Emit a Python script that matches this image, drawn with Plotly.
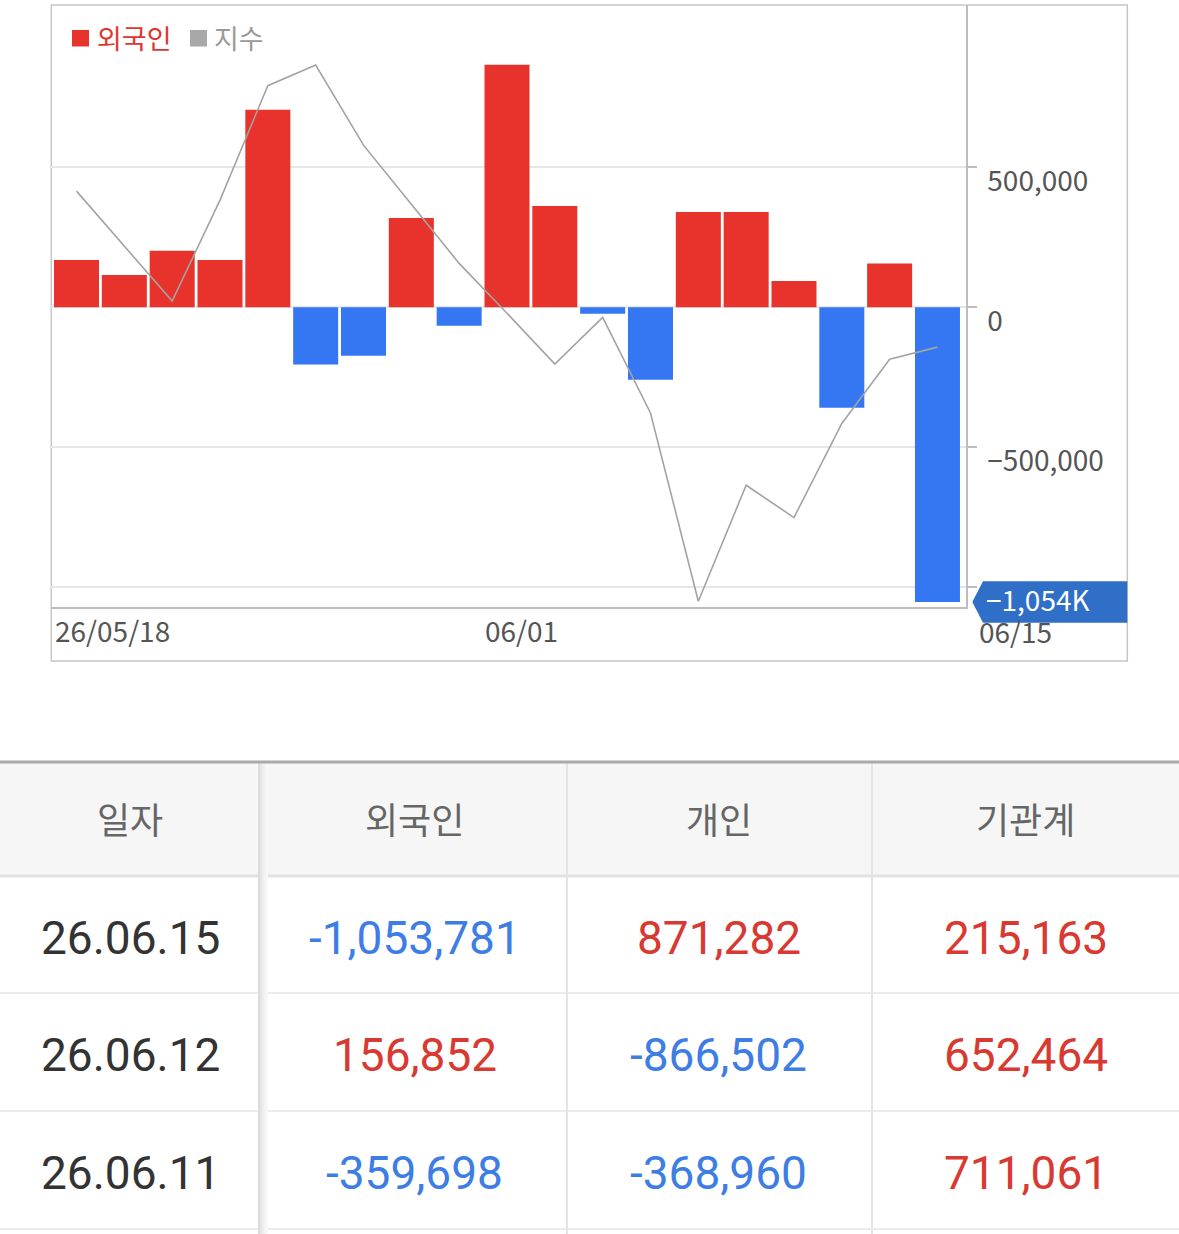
import plotly.graph_objects as go

# 외국인 순매수 (일별) + 지수
dates = ["26/05/18", "26/05/19", "26/05/20", "26/05/21", "26/05/22",
         "26/05/26", "26/05/27", "26/05/28", "26/05/29", "26/06/01",
         "26/06/02", "26/06/04", "26/06/05", "26/06/08", "26/06/09",
         "26/06/10", "26/06/11", "26/06/12", "26/06/15"]
foreign = [169000, 115000, 202000, 169000, 706000,
           -205000, -173000, 319000, -66000, 867000,
           362000, -23000, -259000, 341000, 341000,
           94000, -359698, 156852, -1053781]
kospi = [2807.3, 2779.9, 2752.5, 2802.8, 2859.8,
         2870.1, 2830.2, 2800.8, 2771.3, 2746.5,
         2721.1, 2744.4, 2696.8, 2603.0, 2660.8,
         2644.7, 2691.6, 2723.6, 2729.6]
date_labels = ["26/05/18", "06/01", "06/15"]

# 하단 표
tbl_header = ["일자", "외국인", "개인", "기관계"]
tbl_dates = ["26.06.15", "26.06.12", "26.06.11"]
tbl_foreign = [-1053781, 156852, -359698]
tbl_indiv = [871282, -866502, -368960]
tbl_inst = [215163, 652464, 711061]

W, H = 1179, 1234
RED = "#e8332d"
BLUE = "#3577f2"
FONT = "Noto Sans CJK KR"
Y_RANGE = [-1073000, 1081000]
PLOT_TOP, PLOT_BOT = 5, 607.3


def px(x):
    return x / W


def py(y):
    return 1 - y / H


def val_py(v):
    # y축 값 -> paper 좌표 (배지용)
    frac = (v - Y_RANGE[0]) / (Y_RANGE[1] - Y_RANGE[0])
    return py(PLOT_BOT) + frac * (py(PLOT_TOP) - py(PLOT_BOT))


fig = go.Figure()
fig.add_trace(go.Bar(
    x=dates, y=foreign,
    marker_color=[RED if v > 0 else BLUE for v in foreign],
    marker_line_width=0,
    hoverinfo="skip",
))
fig.add_trace(go.Scatter(
    x=dates, y=kospi, yaxis="y2", mode="lines",
    line=dict(color="#a3a3a3", width=1.6),
    hoverinfo="skip",
))

fig.update_layout(
    width=W, height=H,
    margin=dict(l=0, r=0, t=0, b=0),
    paper_bgcolor="white", plot_bgcolor="white",
    showlegend=False,
    bargap=0.059,
    font=dict(family=FONT, size=27, color="#555555"),
    xaxis=dict(
        domain=[px(51.3), px(965.7)],
        type="category", range=[-0.527, len(dates) - 0.41],
        showticklabels=False, showgrid=False, zeroline=False,
        showline=True, linecolor="#bdbdbd", linewidth=2,
        anchor="y", fixedrange=True,
    ),
    yaxis=dict(
        domain=[py(PLOT_BOT), py(PLOT_TOP)],
        range=Y_RANGE,
        side="right",
        tickvals=[500000, 0, -500000, -1000000],
        ticktext=["500,000", "0", "−500,000", ""],
        ticks="outside", ticklen=9, tickwidth=2, tickcolor="#bdbdbd",
        ticklabelshift=14, ticklabelstandoff=5,
        gridcolor="#e7e7e7", gridwidth=2,
        zeroline=True, zerolinecolor="#e7e7e7", zerolinewidth=2,
        showline=True, linecolor="#bdbdbd", linewidth=2,
        tickfont=dict(size=28, color="#555555"),
        fixedrange=True,
    ),
    yaxis2=dict(
        overlaying="y", range=[2600, 2900], visible=False, fixedrange=True,
    ),
)

shapes = []
# 차트 바깥 테두리
shapes.append(dict(type="rect", xref="paper", yref="paper",
                   x0=px(51.3), x1=px(1127.3), y0=py(661), y1=py(5),
                   line=dict(color="#c6c6c6", width=1.5), layer="below"))

# 범례 사각형
shapes.append(dict(type="rect", xref="paper", yref="paper",
                   x0=px(72), x1=px(89), y0=py(46.5), y1=py(30),
                   fillcolor=RED, line=dict(width=0)))
shapes.append(dict(type="rect", xref="paper", yref="paper",
                   x0=px(190), x1=px(207), y0=py(46.5), y1=py(30),
                   fillcolor="#a8a8a8", line=dict(width=0)))

# 마지막 값 배지
last = foreign[-1]
yc = val_py(last)
half = 20.8 / H
bx_tip, bx_l, bx_r = px(972.3), px(983), px(1127.3)
shapes.append(dict(
    type="path", xref="paper", yref="paper",
    path=(f"M {bx_tip},{yc} L {bx_l},{yc + half} L {bx_r},{yc + half} "
          f"L {bx_r},{yc - half} L {bx_l},{yc - half} Z"),
    fillcolor="#2f6fc8", line=dict(width=0), layer="above",
))

annotations = []
# 범례
annotations.append(dict(
    xref="paper", yref="paper", x=px(95), y=py(37), xanchor="left", yanchor="middle",
    showarrow=False, text="외국인",
    font=dict(family=FONT, size=27, color="#e0352f"),
))
annotations.append(dict(
    xref="paper", yref="paper", x=px(212), y=py(37), xanchor="left", yanchor="middle",
    showarrow=False, text="지수",
    font=dict(family=FONT, size=27, color="#9a9a9a"),
))
# x축 날짜 라벨
label_pos = [dates.index("26/05/18"), dates.index("26/06/01")]
for lab, i in zip(date_labels[:2], label_pos):
    annotations.append(dict(
        xref="x", yref="paper", x=i - 0.5, y=py(630), xanchor="left", yanchor="middle",
        xshift=0, showarrow=False, text=lab,
        font=dict(family=FONT, size=28, color="#555555"),
    ))
annotations.append(dict(
    xref="x", yref="paper", x=len(dates) - 0.5, y=py(631), xanchor="left", yanchor="middle",
    xshift=16, showarrow=False, text=date_labels[2],
    font=dict(family=FONT, size=28, color="#555555"),
))
# 배지 텍스트
annotations.append(dict(
    xref="paper", yref="paper", x=px(984), y=yc, xanchor="left", yanchor="middle",
    yshift=3, showarrow=False, text=f"−{abs(last) / 1000:,.0f}K",
    font=dict(family=FONT, size=28, color="white"),
))

# 표 배경/선
col_edges = [0, 260, 567, 872, 1179]
row_edges = [762, 876, 993, 1111, 1229]
shapes.append(dict(type="rect", xref="paper", yref="paper",
                   x0=0, x1=1, y0=py(876), y1=py(762),
                   fillcolor="#f6f6f6", line=dict(width=0), layer="below"))
for ry in row_edges[2:]:
    shapes.append(dict(type="line", xref="paper", yref="paper",
                       x0=0, x1=1, y0=py(ry), y1=py(ry),
                       line=dict(color="#ececec", width=2)))
shapes.append(dict(type="line", xref="paper", yref="paper",
                   x0=0, x1=1, y0=py(row_edges[1]), y1=py(row_edges[1]),
                   line=dict(color="#e2e2e2", width=3)))
for cx in col_edges[2:4]:
    shapes.append(dict(type="line", xref="paper", yref="paper",
                       x0=px(cx), x1=px(cx), y0=0, y1=py(762),
                       line=dict(color="#e4e4e4", width=2)))
# 첫 열 오른쪽 그림자
shade = ["#dcdcdc", "#e6e6e6", "#eeeeee", "#f3f3f3", "#f8f8f8"]
for k, c in enumerate(shade):
    shapes.append(dict(type="line", xref="paper", yref="paper",
                       x0=px(259 + 2 * k), x1=px(259 + 2 * k), y0=0, y1=py(763),
                       line=dict(color=c, width=2)))
shapes.append(dict(type="line", xref="paper", yref="paper",
                   x0=0, x1=1, y0=py(762), y1=py(762),
                   line=dict(color="#aaaaaa", width=3)))

col_mid = [(col_edges[i] + col_edges[i + 1]) / 2 for i in range(4)]
col_mid[1] += 1
col_mid[2] -= 1
for t, cx in zip(tbl_header, col_mid):
    annotations.append(dict(
        xref="paper", yref="paper", x=px(cx), y=py(818), showarrow=False,
        xanchor="center", yanchor="middle", text=t,
        font=dict(family=FONT, size=36, color="#666666"),
    ))


def val_color(v):
    return "#d83a32" if v > 0 else "#3d7de4"


for r in range(len(tbl_dates)):
    ym = (row_edges[r + 1] + row_edges[r + 2]) / 2 + 3
    cells = [(tbl_dates[r], "#333333")]
    for arr in (tbl_foreign, tbl_indiv, tbl_inst):
        cells.append((f"{arr[r]:,}", val_color(arr[r])))
    for (t, c), cx in zip(cells, col_mid):
        annotations.append(dict(
            xref="paper", yref="paper", x=px(cx), y=py(ym), showarrow=False,
            xanchor="center", yanchor="middle", text=t,
            font=dict(family="Roboto", size=46, color=c),
        ))

fig.update_layout(shapes=shapes, annotations=annotations)
fig.write_html("out.html", config={"displayModeBar": False},
               post_script="document.body.style.margin='0';")
